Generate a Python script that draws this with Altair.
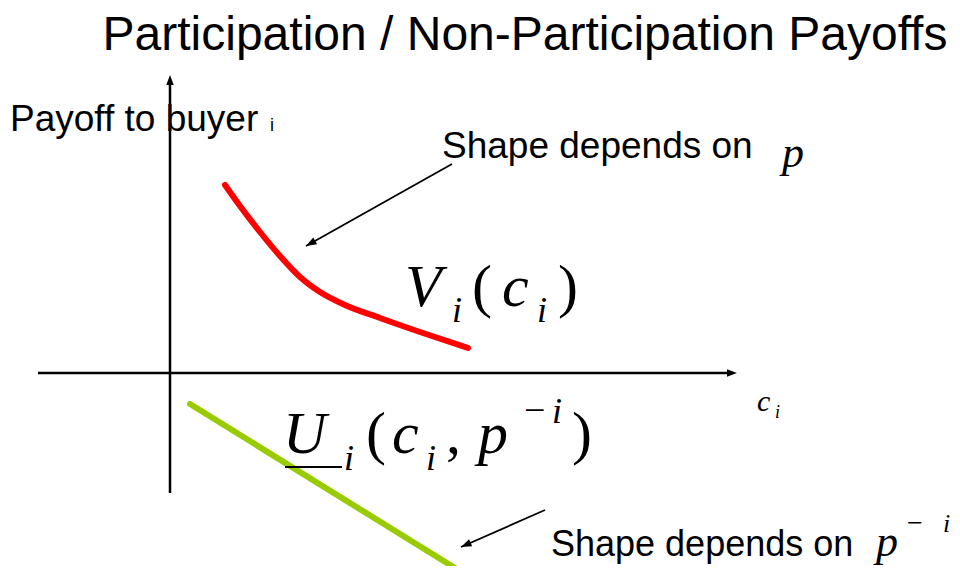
import altair as alt
import pandas as pd
import numpy as np

# Diagram coordinates (x to the right, y downward)
red_x = [225, 240, 260, 280, 300, 320, 345, 380, 420, 468]
red_y = [185, 206, 232, 256, 277, 292, 305, 318, 332, 348]

green_x = [190, 455]
green_y = [404, 568]

# axes: (x1, y1, x2, y2)
axis_x1 = [170, 38]
axis_y1 = [493, 373]
axis_x2 = [170, 729]
axis_y2 = [83, 373]

# pointer arrows: start -> tip
arrow_x1 = [452, 545]
arrow_y1 = [164, 510]
arrow_x2 = [306, 461]
arrow_y2 = [246, 547]

# underline under U
under_x1 = [285]
under_x2 = [342]
under_y = [467]

# labels
sans_text = ["Participation / Non-Participation Payoffs", "Payoff to buyer", "i",
             "Shape depends on", "Shape depends on"]
sans_x = [525, 10, 270, 442, 551]
sans_y = [50, 131, 131, 158, 556]
sans_size = [48, 37, 18, 37, 36]
sans_align = ["center", "left", "left", "left", "left"]

ital_text = ["p", "p", "i", "V", "i", "c", "i", "U", "i", "c", "i", "p", "i", "c", "i"]
ital_x = [782, 876, 943, 405, 452, 502, 537, 283, 344, 392, 426, 478, 552, 757, 775]
ital_y = [167, 556, 532, 306, 322, 306, 322, 453, 470, 453, 470, 453, 423, 411, 418]
ital_size = [44, 44, 26, 60, 36, 60, 36, 60, 36, 60, 36, 60, 36, 30, 18]

rom_text = ["(", ")", "(", ",", "\u2212", ")", "\u2212"]
rom_x = [472, 558, 366, 446, 524, 572, 907]
rom_y = [306, 306, 453, 453, 423, 453, 532]
rom_size = [60, 60, 60, 60, 38, 60, 28]

W, H = 944, 558
xs = alt.Scale(domain=[8, 952], range=[0, W], nice=False, zero=False)
ys = alt.Scale(domain=[8, 566], range=[0, H], nice=False, zero=False)

def X(f):
    return alt.X(f, type="quantitative", scale=xs, axis=None)

def Y(f):
    return alt.Y(f, type="quantitative", scale=ys, axis=None)

red = pd.DataFrame({"x": red_x, "y": red_y, "o": range(len(red_x))})
green = pd.DataFrame({"x": green_x, "y": green_y, "o": range(len(green_x))})

red_line = alt.Chart(red).mark_line(color="#FF0000", strokeWidth=6, strokeCap="round",
                                    interpolate="monotone").encode(X("x"), Y("y"), order="o:Q")
green_line = alt.Chart(green).mark_line(color="#99CC00", strokeWidth=6, strokeCap="round").encode(
    X("x"), Y("y"), order="o:Q")

axes = pd.DataFrame({"x1": axis_x1, "y1": axis_y1, "x2": axis_x2, "y2": axis_y2})
axis_rules = alt.Chart(axes).mark_rule(color="black", strokeWidth=2.5).encode(
    X("x1"), Y("y1"), x2="x2:Q", y2="y2:Q")

arrows = pd.DataFrame({"x1": arrow_x1, "y1": arrow_y1, "x2": arrow_x2, "y2": arrow_y2})
arrow_rules = alt.Chart(arrows).mark_rule(color="black", strokeWidth=1.8).encode(
    X("x1"), Y("y1"), x2="x2:Q", y2="y2:Q")

# arrow heads: tips, rotated along the line direction
head_x = list(arrow_x2) + [170, 737]
head_y = list(arrow_y2) + [75, 373]
head_ang = [float(np.degrees(np.arctan2(y2 - y1, x2 - x1)) + 90) % 360
            for x1, y1, x2, y2 in zip(arrow_x1, arrow_y1, arrow_x2, arrow_y2)] + [0, 90]
head_size = [110, 110, 100, 100]
heads = pd.DataFrame({"x": head_x, "y": head_y, "a": head_ang, "s": head_size})
head_marks = alt.Chart(heads).mark_point(shape="M0,0L0.75,2L-0.75,2Z", filled=True,
                                         color="black", opacity=1, strokeWidth=0).encode(
    X("x"), Y("y"), angle=alt.Angle("a:Q", scale=None), size=alt.Size("s:Q", scale=None))

ul = pd.DataFrame({"x1": under_x1, "x2": under_x2, "y": under_y})
underline = alt.Chart(ul).mark_rule(color="black", strokeWidth=2).encode(X("x1"), Y("y"), x2="x2:Q")

sans = pd.DataFrame({"t": sans_text, "x": sans_x, "y": sans_y, "s": sans_size, "al": sans_align})
sans_c = alt.Chart(sans[sans.al == "center"]).mark_text(font="Liberation Sans", align="center",
                                                        baseline="alphabetic", color="black").encode(
    X("x"), Y("y"), text="t:N", size=alt.Size("s:Q", scale=None))
sans_l = alt.Chart(sans[sans.al == "left"]).mark_text(font="Liberation Sans", align="left",
                                                      baseline="alphabetic", color="black").encode(
    X("x"), Y("y"), text="t:N", size=alt.Size("s:Q", scale=None))

ital = pd.DataFrame({"t": ital_text, "x": ital_x, "y": ital_y, "s": ital_size})
ital_m = alt.Chart(ital).mark_text(font="Liberation Serif", fontStyle="italic", align="left",
                                   baseline="alphabetic", color="black").encode(
    X("x"), Y("y"), text="t:N", size=alt.Size("s:Q", scale=None))

rom = pd.DataFrame({"t": rom_text, "x": rom_x, "y": rom_y, "s": rom_size})
rom_m = alt.Chart(rom).mark_text(font="Liberation Serif", align="left",
                                 baseline="alphabetic", color="black").encode(
    X("x"), Y("y"), text="t:N", size=alt.Size("s:Q", scale=None))

chart = alt.layer(axis_rules, red_line, green_line, arrow_rules, head_marks, underline,
                  sans_c, sans_l, ital_m, rom_m).properties(
    width=W, height=H, padding=0, autosize=alt.AutoSizeParams(type="none")
).configure_view(stroke=None)

chart.save("out.html", embed_options={"renderer": "svg", "actions": False})
